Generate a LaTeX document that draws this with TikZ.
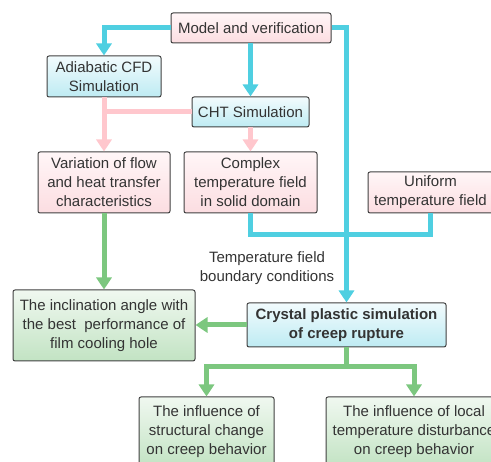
\documentclass[tikz,border=0pt]{standalone}
\usepackage{fontspec}
\setmainfont{Liberation Sans}
\usetikzlibrary{arrows.meta}
\definecolor{cy}{HTML}{4FCFE1}
\definecolor{pk}{HTML}{FFC7CD}
\definecolor{gr}{HTML}{7CC77F}
\definecolor{bordercol}{HTML}{404040}
\definecolor{textcol}{HTML}{333333}
\definecolor{pinktop}{HTML}{FFF6F7}
\definecolor{pinkbot}{HTML}{FCDDE1}
\definecolor{cytop}{HTML}{F2FBFD}
\definecolor{cybot}{HTML}{BEEBF3}
\definecolor{grtop}{HTML}{F0F8F0}
\definecolor{grbot}{HTML}{C2E3C3}
\begin{document}
\begin{tikzpicture}[x=1pt,y=-1pt,
  box/.style={draw=bordercol, line width=1pt, rounded corners=2pt, inner sep=0pt,
    align=center, text=textcol, font=\fontsize{15}{19}\selectfont},
  pinkbox/.style={box, top color=pinktop, bottom color=pinkbot},
  cybox/.style={box, top color=cytop, bottom color=cybot},
  grbox/.style={box, top color=grtop, bottom color=grbot},
  cyline/.style={draw=cy, line width=5pt},
  cyarrow/.style={cyline, -{Triangle[width=15pt,length=12pt]}},
  pkline/.style={draw=pk, line width=5pt},
  pkarrow/.style={pkline, -{Triangle[width=15pt,length=12pt]}},
  grline/.style={draw=gr, line width=5pt},
  grarrow/.style={grline, -{Triangle[width=15pt,length=12pt]}},
  lbl/.style={align=center, text=textcol, font=\fontsize{15}{19}\selectfont, inner sep=0pt}
]
\useasboundingbox (0,0) rectangle (491,462);

\node[pinkbox, minimum width=160pt, minimum height=30pt] (model) at (251,28) {Model and verification};
\node[cybox, minimum width=114pt, minimum height=41pt] (adiabatic) at (104,76.5) {Adiabatic CFD\\Simulation};
\node[cybox, minimum width=117pt, minimum height=30pt] (cht) at (250.5,112) {CHT Simulation};
\node[pinkbox, minimum width=132pt, minimum height=61pt] (variation) at (104,182.5) {Variation of flow\\and heat transfer\\characteristics};
\node[pinkbox, minimum width=133pt, minimum height=61pt] (complex) at (250.5,182.5) {Complex\\temperature field\\in solid domain};
\node[pinkbox, minimum width=125pt, minimum height=41pt] (uniform) at (430.5,192.5) {Uniform\\temperature field};
\node[cybox, minimum width=199pt, minimum height=44pt, font=\fontsize{15}{19}\selectfont\bfseries] (crystal) at (346.5,325) {Crystal plastic simulation\\of creep rupture};
\node[grbox, minimum width=182pt, minimum height=71pt] (inclination) at (104,325.5) {The inclination angle with\\the best~ performance of\\film cooling hole};
\node[grbox, minimum width=135pt, minimum height=70pt] (structural) at (206.5,432) {The influence of\\structural change\\on creep behavior};
\node[grbox, minimum width=176pt, minimum height=70pt] (local) at (414,432) {The influence of local\\temperature disturbance\\on creep behavior};
\node[lbl] (tlabel) at (267,268) {Temperature field\\boundary conditions};

% cyan connectors
\draw[cyarrow] (model.west) -| (adiabatic.north);
\draw[cyarrow] (model.south -| cht.north) -- (cht.north);
\draw[cyarrow] (model.east) -| (crystal.north);
\draw[cyline] (complex.south) -- ++(0,21.5) -| (uniform.south);

% pink connectors
\draw[pkline] (adiabatic.south) -- (adiabatic.south |- cht.west);
\draw[pkarrow] (cht.west) -| (variation.north);
\draw[pkarrow] (cht.south) -- (complex.north);

% green connectors
\draw[grarrow] (variation.south) -- (inclination.north);
\draw[grarrow] (crystal.west) -- (crystal.west -| inclination.east);
\draw[grarrow] (crystal.south) -- ++(0,19) -| (structural.north);
\draw[grarrow] (crystal.south) -- ++(0,19) -| (local.north);
\end{tikzpicture}
\end{document}
